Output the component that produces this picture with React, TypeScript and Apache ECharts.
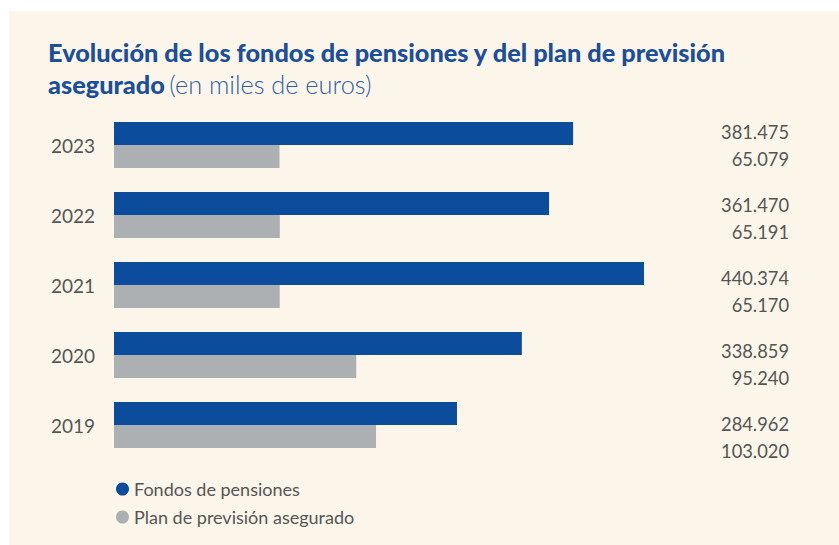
import React, { useEffect, useRef } from "react";
import * as echarts from "echarts";

const years = ["2023", "2022", "2021", "2020", "2019"];
const fondos = [381.475, 361.47, 440.374, 338.859, 284.962];
const planes = [65.079, 65.191, 65.17, 95.24, 103.02];
const seriesNames = ["Fondos de pensiones", "Plan de previsión asegurado"];

const fmt = (v: number) => v.toFixed(3);

export default function App() {
  const ref = useRef<HTMLDivElement>(null);
  useEffect(() => {
    if (!ref.current) return;
    const chart = echarts.init(ref.current, undefined, { renderer: "svg" });
    const font = "Lato, 'Noto Sans', sans-serif";
    chart.setOption({
      animation: false,
      backgroundColor: "#FCF6EA",
      textStyle: { fontFamily: font },
      title: {
        left: 34,
        top: 20,
        text:
          "{b|Evolución de los fondos de pensiones y del plan de previsión}\n{b|asegurado} {r|(en miles de euros)}",
        textStyle: {
          rich: {
            b: { fontFamily: font, fontSize: 25.3, fontWeight: 900, color: "#1B4E9B", lineHeight: 32 },
            r: { fontFamily: font, fontSize: 25.3, fontWeight: 300, color: "#2F5EA6", lineHeight: 32 },
          },
        },
      },
      legend: {
        orient: "vertical",
        left: 102,
        top: 463,
        itemGap: 8,
        itemWidth: 13,
        itemHeight: 13,
        icon: "circle",
        data: seriesNames,
        textStyle: { fontFamily: font, fontSize: 18, color: "#555", lineHeight: 20 },
      },
      grid: [
        { left: 105, top: 99, width: 674, height: 350 },
        { left: 105, top: 98, width: 675, height: 365 },
      ],
      xAxis: [
        { gridIndex: 0, type: "value", min: 0, max: 560, show: false },
        { gridIndex: 0, type: "value", min: 0, max: 265, show: false },
        { gridIndex: 1, type: "value", min: 0, max: 1, show: false },
      ],
      yAxis: [
        {
          gridIndex: 0,
          type: "category",
          data: years,
          inverse: true,
          axisLine: { show: false },
          axisTick: { show: false },
          axisLabel: { margin: 19, fontSize: 19, color: "#555", fontFamily: font },
        },
        {
          gridIndex: 1,
          type: "category",
          data: years,
          inverse: true,
          position: "right",
          axisLine: { show: false },
          axisTick: { show: false },
          axisLabel: {
            margin: 0,
            align: "right",
            formatter: (_v: string, i: number) => `{a|${fmt(fondos[i])}}\n{a|${fmt(planes[i])}}`,
            rich: {
              a: { fontSize: 18.3, color: "#555", lineHeight: 27.5, fontFamily: font, align: "right" },
            },
          },
        },
      ],
      series: [
        {
          name: seriesNames[0],
          type: "bar",
          xAxisIndex: 0,
          yAxisIndex: 0,
          data: fondos,
          barWidth: 23,
          barGap: "0%",
          itemStyle: { color: "#0B4C9C" },
        },
        {
          name: seriesNames[1],
          type: "bar",
          xAxisIndex: 1,
          yAxisIndex: 0,
          data: planes,
          barWidth: 23,
          barGap: "0%",
          itemStyle: { color: "#ADB0B2" },
        },
      ],
    });
    return () => chart.dispose();
  }, []);
  return (
    <div style={{ position: "absolute", left: 0, top: 0, width: 839, height: 545, background: "#fff" }}>
      <div ref={ref} style={{ position: "absolute", left: 9, top: 11, width: 830, height: 534 }} />
    </div>
  );
}
